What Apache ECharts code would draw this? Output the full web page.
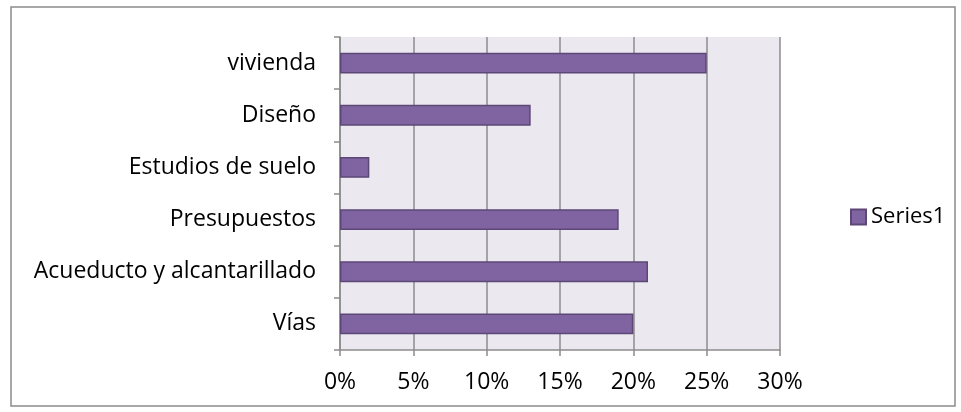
<!DOCTYPE html>
<html>
<head>
<meta charset="utf-8">
<script src="https://cdn.jsdelivr.net/npm/echarts@6/dist/echarts.min.js"></script>
<style>
  html, body { margin: 0; padding: 0; background: #fff; }
  #chart { width: 961px; height: 412px; }
</style>
</head>
<body>
<div id="chart"></div>
<script>
// categories bottom to top
const categories = ['Vías', 'Acueducto y alcantarillado', 'Presupuestos', 'Estudios de suelo', 'Diseño', 'vivienda']
const values = [0.20, 0.21, 0.19, 0.02, 0.13, 0.25]
const seriesName = 'Series1'

const chart = echarts.init(document.getElementById('chart'))
const font = 'Open Sans'
const fs = 23

chart.setOption({
  backgroundColor: '#fff',
  animation: false,
  graphic: [{
    type: 'rect',
    shape: { x: 11, y: 7, width: 944, height: 399 },
    style: { fill: 'none', stroke: '#8c8c8c', lineWidth: 1.5 },
    silent: true
  }],
  legend: {
    data: [seriesName],
    left: 845,
    top: 201,
    icon: 'rect',
    itemWidth: 15,
    itemHeight: 15,
    itemGap: 4,
    textStyle: { fontFamily: font, fontSize: 22, color: '#000' }
  },
  grid: {
    left: 340, right: 181, top: 37, bottom: 62,
    show: true,
    backgroundColor: '#ebe8f0',
    borderWidth: 0
  },
  xAxis: {
    type: 'value',
    min: 0, max: 0.30, interval: 0.05,
    axisLine: { show: true, lineStyle: { color: '#8c8c8c', width: 1.5 } },
    axisTick: { show: true, length: 6, lineStyle: { color: '#8c8c8c', width: 1.5 } },
    splitLine: { show: true, lineStyle: { color: '#8c8c8c', width: 1.5 } },
    axisLabel: {
      fontFamily: font, fontSize: fs, color: '#000', margin: 21,
      formatter: v => Math.round(v * 100) + '%'
    }
  },
  yAxis: {
    type: 'category',
    data: categories,
    axisLine: { show: true, lineStyle: { color: '#8c8c8c', width: 1.5 } },
    axisTick: { show: true, length: 6, lineStyle: { color: '#8c8c8c', width: 1.5 } },
    axisLabel: { fontFamily: font, fontSize: fs, color: '#000', margin: 24 }
  },
  series: [{
    name: seriesName,
    type: 'bar',
    data: values,
    barCategoryGap: '60%',
    itemStyle: { color: '#8064a2', borderColor: '#5c4776', borderWidth: 1.5 }
  }]
})
</script>
</body>
</html>
